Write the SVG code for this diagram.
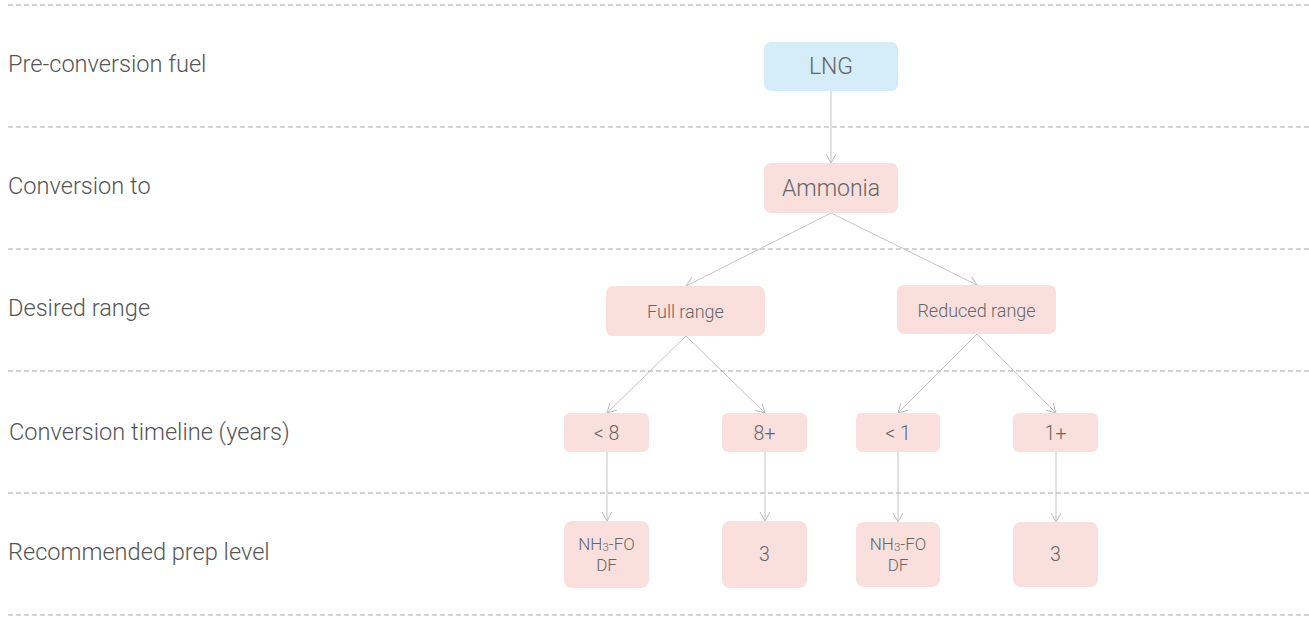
<svg xmlns="http://www.w3.org/2000/svg" width="1309" height="619" viewBox="0 0 1309 619">
<defs>
<style>
.sep{stroke:#a8a8a8;stroke-width:1.2;stroke-dasharray:5 3;fill:none}
.lbl{font-family:Roboto,"Liberation Sans",Arial,sans-serif;font-weight:300;font-size:23.6px;fill:#555}
.blue{fill:#d4edf8}
.pink{fill:#f9e0dc}
.t{font-family:Roboto,"Liberation Sans",Arial,sans-serif;font-weight:300;fill:#666;text-anchor:middle;dominant-baseline:central}
.edge{stroke:#c4c4c4;stroke-width:1;fill:none;marker-end:url(#arr)}
</style>
<marker id="arr" markerUnits="userSpaceOnUse" markerWidth="12" markerHeight="12" refX="9" refY="5" orient="auto">
<path d="M0,0 L9,5 L0,10" fill="none" stroke="#bdbdbd" stroke-width="1"/>
</marker>
</defs>
<g id="separators">
<line class="sep" x1="8" y1="5" x2="1309" y2="5"/>
<line class="sep" x1="8" y1="127" x2="1309" y2="127"/>
<line class="sep" x1="8" y1="249" x2="1309" y2="249"/>
<line class="sep" x1="8" y1="371" x2="1309" y2="371"/>
<line class="sep" x1="8" y1="493" x2="1309" y2="493"/>
<line class="sep" x1="8" y1="615" x2="1309" y2="615"/>
</g>
<g id="row-labels">
<text class="lbl" x="8" y="72">Pre-conversion fuel</text>
<text class="lbl" x="8" y="194">Conversion to</text>
<text class="lbl" x="8" y="316">Desired range</text>
<text class="lbl" x="9" y="440">Conversion timeline (years)</text>
<text class="lbl" x="8" y="560">Recommended prep level</text>
</g>
<g id="connectors">
<line class="edge" x1="831" y1="91" x2="831" y2="163"/>
<line class="edge" x1="831" y1="213" x2="686" y2="286"/>
<line class="edge" x1="831" y1="213" x2="977" y2="285"/>
<line class="edge" x1="686" y1="336" x2="607" y2="413"/>
<line class="edge" x1="686" y1="336" x2="765" y2="413"/>
<line class="edge" x1="977" y1="334" x2="898" y2="413"/>
<line class="edge" x1="977" y1="334" x2="1056" y2="413"/>
<line class="edge" x1="607" y1="452" x2="607" y2="521"/>
<line class="edge" x1="765" y1="452" x2="765" y2="521"/>
<line class="edge" x1="898" y1="452" x2="898" y2="522"/>
<line class="edge" x1="1056" y1="452" x2="1056" y2="522"/>
</g>
<g id="node-lng">
<rect class="blue" x="764" y="42" width="134" height="49" rx="7"/>
<text class="t" x="831" y="66.5" font-size="23">LNG</text>
</g>
<g id="node-ammonia">
<rect class="pink" x="764" y="163" width="134" height="50" rx="7"/>
<text class="t" x="831" y="188" font-size="23">Ammonia</text>
</g>
<g id="node-full">
<rect class="pink" x="606" y="286" width="159" height="50" rx="7"/>
<text class="t" x="685.5" y="311" font-size="18">Full range</text>
</g>
<g id="node-reduced">
<rect class="pink" x="897" y="285" width="159" height="49" rx="7"/>
<text class="t" x="976.5" y="310" font-size="18">Reduced range</text>
</g>
<g id="node-lt8">
<rect class="pink" x="564" y="413" width="85" height="39" rx="6"/>
<text class="t" x="606.5" y="433" font-size="19.5">&lt; 8</text>
</g>
<g id="node-8plus">
<rect class="pink" x="722" y="413" width="85" height="39" rx="6"/>
<text class="t" x="764.5" y="433" font-size="19.5">8+</text>
</g>
<g id="node-lt1">
<rect class="pink" x="856" y="413" width="84" height="39" rx="6"/>
<text class="t" x="898" y="433" font-size="19.5">&lt; 1</text>
</g>
<g id="node-1plus">
<rect class="pink" x="1013" y="413" width="85" height="39" rx="6"/>
<text class="t" x="1055.5" y="433" font-size="19.5">1+</text>
</g>
<g id="node-prep1">
<rect class="pink" x="564" y="521" width="85" height="67" rx="8"/>
<text class="t" x="606.5" y="544" font-size="17">NH<tspan font-size="11.5" dy="3">3</tspan><tspan dy="-3">-FO</tspan></text>
<text class="t" x="606.5" y="565" font-size="17">DF</text>
</g>
<g id="node-prep2">
<rect class="pink" x="722" y="521" width="85" height="67" rx="8"/>
<text class="t" x="764.5" y="554.5" font-size="19.5">3</text>
</g>
<g id="node-prep3">
<rect class="pink" x="856" y="522" width="84" height="65" rx="8"/>
<text class="t" x="898" y="544" font-size="17">NH<tspan font-size="11.5" dy="3">3</tspan><tspan dy="-3">-FO</tspan></text>
<text class="t" x="898" y="565" font-size="17">DF</text>
</g>
<g id="node-prep4">
<rect class="pink" x="1013" y="522" width="85" height="65" rx="8"/>
<text class="t" x="1055.5" y="554.5" font-size="19.5">3</text>
</g>
</svg>
